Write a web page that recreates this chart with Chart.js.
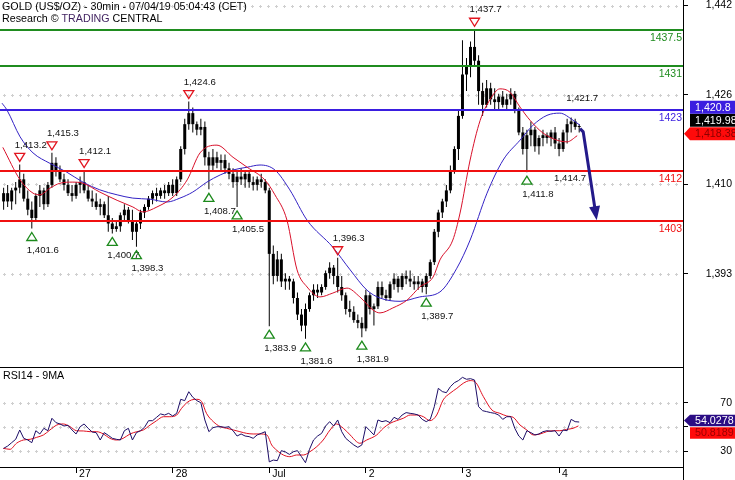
<!DOCTYPE html>
<html><head><meta charset="utf-8">
<script src="https://cdn.jsdelivr.net/npm/chart.js@4.4.1/dist/chart.umd.min.js"></script>
<style>
html,body{margin:0;padding:0;background:#fff;}
#wrap{position:relative;width:735px;height:480px;overflow:hidden;}
#main{position:absolute;left:0;top:0;}
#rsi{position:absolute;left:0;top:367px;}
</style></head><body>
<div id="wrap"><canvas id="main" width="735" height="367"></canvas><canvas id="rsi" width="735" height="113"></canvas></div>
<script>
// ---------- DATA (hours counted from Jun 26 00:00 CET) ----------
const candleHours = [6,7,8,9,10,11,12,13,14,15,16,17,18,19,20,21,22,23,24,25,26,27,28,29,30,31,32,33,34,35,36,37,38,39,40,41,42,43,44,45,46,47,48,49,50,51,52,53,54,55,56,57,58,59,60,61,62,63,64,65,66,67,68,69,70,71,72,73,74,75,76,77,78,79,80,81,82,83,84,85,86,87,88,89,90,91,92,93,94,95,96,97,98,99,100,101,102,103,104,105,106,107,108,109,110,111,112,113,114,115,116,117,118,119,120,121,122,123,124,125,126,127,128,129,130,131,132,133,134,135,136,137,138,139,140,141,142,143,144,145,146,147,148,149];
const opens = [1406.5,1408.0,1406.5,1408.5,1409.0,1410.5,1407.0,1405.0,1403.5,1407.5,1408.5,1406.0,1409.5,1413.5,1412.0,1410.5,1409.5,1408.0,1407.5,1409.5,1410.0,1408.5,1407.0,1406.5,1405.5,1406.0,1404.0,1402.5,1401.5,1402.0,1404.0,1405.0,1403.0,1401.0,1402.5,1404.5,1405.5,1407.0,1408.0,1407.5,1408.5,1408.0,1409.5,1408.0,1410.5,1416.0,1420.5,1422.5,1420.5,1419.5,1420.0,1414.5,1413.0,1414.5,1413.5,1414.0,1412.5,1411.5,1410.0,1411.0,1410.5,1411.5,1410.0,1409.5,1410.5,1410.0,1408.5,1397.0,1393.0,1396.0,1392.0,1392.5,1392.0,1389.0,1386.0,1384.0,1387.0,1389.5,1390.5,1390.0,1391.0,1393.5,1394.5,1393.0,1391.0,1389.5,1387.0,1386.5,1385.0,1384.5,1383.5,1389.5,1387.0,1387.5,1391.0,1389.5,1389.0,1391.5,1392.5,1391.0,1393.0,1392.5,1392.0,1391.5,1392.0,1391.0,1393.0,1395.5,1401.0,1404.5,1406.5,1408.5,1412.0,1416.0,1422.0,1429.5,1431.0,1434.5,1432.0,1426.5,1424.0,1427.0,1425.0,1424.5,1425.5,1424.0,1425.0,1426.0,1423.0,1419.0,1416.0,1418.5,1419.5,1416.5,1418.0,1418.5,1418.0,1419.0,1417.0,1416.0,1419.0,1420.5,1421.0,1420.0];
const highs = [1409.0,1409.5,1409.0,1410.0,1413.2,1411.5,1408.5,1406.5,1408.0,1409.5,1409.0,1410.0,1415.3,1414.5,1413.0,1411.5,1410.5,1409.5,1410.0,1411.0,1412.1,1409.5,1408.5,1408.0,1407.0,1406.5,1407.5,1403.5,1403.0,1404.5,1406.0,1405.5,1405.0,1403.0,1405.0,1406.0,1407.5,1408.5,1409.0,1409.0,1409.5,1410.0,1410.5,1411.0,1416.5,1421.5,1424.6,1423.5,1421.0,1421.5,1421.0,1415.5,1416.0,1415.5,1415.0,1415.0,1413.5,1412.5,1412.0,1412.5,1412.0,1412.0,1411.0,1411.0,1411.5,1410.5,1409.0,1398.5,1397.5,1397.0,1393.5,1393.0,1392.5,1390.0,1387.0,1388.0,1390.0,1391.5,1391.5,1391.5,1394.0,1395.5,1395.0,1396.3,1393.0,1390.0,1388.5,1387.5,1386.0,1385.5,1390.5,1390.0,1388.0,1392.0,1392.0,1390.5,1392.0,1393.5,1393.0,1393.5,1394.0,1394.0,1393.0,1393.0,1392.5,1393.5,1396.0,1401.5,1405.0,1407.0,1409.5,1413.0,1416.5,1423.0,1435.7,1432.5,1435.5,1437.7,1433.0,1428.0,1428.5,1428.0,1427.0,1426.0,1426.5,1426.0,1427.0,1426.5,1423.5,1420.0,1419.5,1421.0,1420.0,1418.5,1419.5,1419.0,1419.5,1420.0,1418.0,1419.5,1421.5,1421.7,1421.5,1420.5];
const lows = [1405.0,1405.5,1405.0,1406.0,1408.0,1406.5,1404.0,1401.6,1403.0,1405.5,1405.0,1405.5,1409.0,1411.0,1410.0,1408.5,1407.5,1406.5,1407.0,1408.0,1408.0,1406.5,1405.5,1405.0,1404.0,1403.5,1401.0,1400.7,1401.0,1401.0,1403.0,1402.5,1399.5,1398.3,1401.5,1403.5,1405.0,1406.0,1406.5,1407.0,1407.0,1407.5,1407.5,1407.5,1410.0,1415.0,1419.5,1419.0,1418.5,1418.5,1413.0,1408.7,1412.0,1412.5,1412.0,1411.5,1410.5,1409.0,1405.5,1409.5,1409.0,1409.0,1408.5,1408.5,1409.0,1408.0,1383.9,1391.5,1392.0,1391.0,1390.5,1390.5,1388.0,1385.0,1383.0,1381.6,1386.5,1388.5,1389.0,1389.5,1390.5,1392.5,1391.5,1390.0,1388.5,1386.0,1385.5,1384.5,1383.5,1381.9,1383.0,1386.0,1384.0,1387.0,1389.0,1388.5,1388.5,1390.5,1390.0,1390.5,1391.5,1391.0,1390.5,1390.5,1390.0,1389.7,1392.5,1395.0,1400.0,1403.5,1405.5,1408.0,1411.5,1414.0,1421.5,1426.5,1429.0,1431.0,1424.0,1422.0,1423.5,1424.0,1423.0,1423.0,1423.5,1423.0,1424.0,1422.5,1418.5,1415.0,1411.8,1416.5,1415.5,1415.0,1416.5,1417.0,1416.5,1416.0,1414.7,1415.5,1417.0,1419.0,1419.5,1419.0];
const closes = [1408.0,1406.5,1408.5,1409.0,1410.5,1407.0,1405.0,1403.5,1407.5,1408.5,1406.0,1409.5,1413.5,1412.0,1410.5,1409.5,1408.0,1407.5,1409.5,1410.0,1408.5,1407.0,1406.5,1405.5,1406.0,1404.0,1402.5,1401.5,1402.0,1404.0,1405.0,1403.0,1401.0,1402.5,1404.5,1405.5,1407.0,1408.0,1407.5,1408.5,1408.0,1409.5,1408.0,1410.5,1416.0,1420.5,1422.5,1420.5,1419.5,1420.0,1414.5,1413.0,1414.5,1413.5,1414.0,1412.5,1411.5,1410.0,1411.0,1410.5,1411.5,1410.0,1409.5,1410.5,1410.0,1408.5,1397.0,1393.0,1396.0,1392.0,1392.5,1392.0,1389.0,1386.0,1384.0,1387.0,1389.5,1390.5,1390.0,1391.0,1393.5,1394.5,1393.0,1391.0,1389.5,1387.0,1386.5,1385.0,1384.5,1383.5,1389.5,1387.0,1387.5,1391.0,1389.5,1389.0,1391.5,1392.5,1391.0,1393.0,1392.5,1392.0,1391.5,1392.0,1391.0,1393.0,1395.5,1401.0,1404.5,1406.5,1408.5,1412.0,1416.0,1422.0,1429.5,1431.0,1434.5,1432.0,1426.5,1424.0,1427.0,1425.0,1424.5,1425.5,1424.0,1425.0,1426.0,1423.0,1419.0,1416.0,1418.5,1419.5,1416.5,1418.0,1418.5,1418.0,1419.0,1417.0,1416.0,1419.0,1420.5,1421.0,1420.0,1419.98];

const maRedHours = [5.8,10.1,13.3,15.0,17.5,20.0,23.2,25.7,29.9,34.2,38.1,40.6,44.1,48.1,51.6,54.8,59.0,63.0,66.5,70.9,73.4,76.4,78.9,81.4,84.6,87.8,91.3,94.5,97.8,99.5,102.7,106.2,109.4,112.7,114.4,117.6,119.4,121.9,124.4,126.8,129.3,131.8,134.3,136.8,140.0,143.5,146.0,148.5];
const maRedValues = [1416.3,1410.4,1408.0,1407.7,1408.9,1409.8,1410.0,1409.8,1408.2,1406.7,1405.5,1404.6,1405.5,1407.3,1410.4,1415.3,1416.7,1414.5,1412.7,1410.4,1407.7,1403.1,1394.1,1391.0,1389.2,1389.9,1390.8,1389.2,1386.8,1386.3,1387.2,1388.6,1391.0,1392.8,1395.9,1399.5,1404.4,1414.0,1421.2,1424.9,1426.9,1426.3,1423.6,1421.2,1418.9,1417.6,1417.3,1418.4];
const maBlueHours = [5.6,6.8,10.1,13.3,17.5,21.7,25.7,29.9,34.2,38.1,42.4,46.6,49.8,53.0,56.5,59.8,63.0,66.5,69.7,73.4,77.1,81.4,87.8,92.1,96.3,99.5,104.5,109.4,114.4,118.6,121.9,126.1,130.1,134.3,137.5,141.0,144.2,147.5,149.2];
const maBlueValues = [1424.3,1423.1,1418.2,1415.3,1413.4,1411.8,1410.0,1408.6,1407.7,1407.1,1406.9,1406.4,1407.1,1408.2,1410.0,1411.3,1412.2,1412.7,1413.1,1412.2,1408.6,1403.1,1398.2,1394.1,1390.4,1389.0,1388.4,1389.2,1390.1,1394.4,1399.5,1408.0,1414.0,1417.6,1420.3,1422.1,1422.5,1421.2,1420.3];

const rsiValues = [32.2,34.1,36.9,39.7,47.4,40.5,39.1,36.9,46.8,44.1,48.8,46.8,57.1,53.5,52.4,50.7,51.3,47.4,44.1,50.1,52.4,48.8,45.7,45.2,39.1,45.2,43.0,40.5,39.7,39.1,46.8,48.8,39.1,45.2,46.8,49.6,55.1,55.1,57.9,60.7,59.8,61.2,59.0,61.2,72.8,71.7,79.1,74.5,71.7,70.0,55.7,46.0,49.3,50.1,50.1,49.6,50.1,46.8,42.4,44.1,42.4,41.9,40.5,43.3,44.6,46.0,21.0,22.5,22.0,30.3,29.2,27.2,29.4,30.3,25.3,20.3,31.4,39.1,42.4,44.6,50.7,54.3,50.7,55.7,46.0,40.5,37.7,35.0,33.0,35.0,50.2,46.8,43.3,55.7,54.3,55.1,53.5,57.9,56.2,59.8,61.8,61.2,60.7,59.8,56.2,54.3,56.2,66.7,81.9,79.2,78.3,83.3,86.6,88.3,91.0,89.4,89.9,88.8,66.7,63.4,62.6,61.8,61.2,59.8,56.2,58.4,58.4,48.8,42.4,39.1,46.8,45.2,43.3,44.1,46.0,46.8,46.3,46.8,42.4,47.4,46.8,56.2,54.3,54.0];
const rsiMaHours = [5.9,7.6,9.2,10.9,12.6,14.2,15.9,17.5,19.2,20.8,22.5,24.1,25.8,27.5,29.1,30.8,32.4,34.1,35.7,37.4,39.1,40.7,42.4,44.0,45.7,47.3,49.0,50.2,51.5,52.7,54.0,55.2,56.4,58.1,59.8,61.4,63.1,64.7,66.4,68.0,69.7,71.4,72.6,73.8,75.5,77.1,78.8,80.5,82.1,83.8,85.4,87.1,88.7,90.4,92.1,93.7,94.5,96.2,98.7,100.3,102.0,103.6,105.3,107.0,108.6,110.3,111.9,113.6,115.2,116.9,118.6,120.2,121.9,123.1,125.2,127.3,129.3,131.0,132.6,134.3,136.0,137.6,139.3,140.9,142.6,144.2,145.9,147.5,148.8];
const rsiMaValues = [32.2,31.4,36.4,39.1,39.7,41.3,43.3,47.4,51.5,52.4,50.2,46.8,46.6,46.0,46.0,44.1,40.5,39.1,40.5,44.1,46.0,47.4,51.5,55.1,58.4,58.4,59.8,65.3,70.0,72.3,72.8,70.9,61.2,54.3,50.2,48.8,47.4,46.0,44.6,44.1,44.1,43.3,35.0,30.8,26.7,25.3,26.7,26.7,29.4,33.6,39.1,47.4,52.4,48.8,43.3,37.7,36.4,39.1,43.3,48.8,52.9,55.1,57.1,59.8,59.8,58.4,55.1,59.8,72.3,77.8,81.9,86.1,88.3,87.4,75.0,64.0,61.2,59.0,57.9,51.5,47.4,43.3,44.1,46.0,46.8,46.8,47.9,48.8,50.8];

const priceTicks = [1393.4,1409.6,1425.8,1442.0];
const rsiTicks = [30,50,70];
const dayTicks = [24,48,72,96,120,144];
const dayLabels = ['27','28','Jul','2','3','4'];

const levelValues = [1437.5,1431,1423,1412,1403];
const levelKinds = ['g','g','b','r','r'];

const pivotHours = [10,13,18,26,33,39,52,57,64,72,81,89,95,111,123,136,147,144];
const pivotValues = [1413.2,1401.6,1415.3,1412.1,1400.7,1398.3,1424.6,1408.7,1405.5,1383.9,1381.6,1396.3,1381.9,1389.7,1437.7,1411.8,1421.7,1414.7];
const pivotKinds = ['H','L','H','H','L','L','H','L','L','L','L','H','L','L','H','L','h','l'];

const arrowHours = [149.2,150.0,153.35];
const arrowValues = [1419.7,1419.1,1403.1];

const lastBlueMA = 1420.8, lastClose = 1419.98, lastRedMA = 1418.38;
const lastRsi = 54.0278, lastRsiMA = 50.8189;

const titleText = 'GOLD (US$/OZ) - 30min - 07/04/19 05:04:43 (CET)';
const subTitle = ['Research \u00A9 ','TRADING',' CENTRAL'];

// ---------- STYLE ----------
const FF = '"Liberation Sans", Arial, sans-serif';
const COL = {g:'#1f8c1f', b:'#3a1ee0', r:'#f01010', redMA:'#d8102a', blueMA:'#3322c4',
  rsi:'#1c0d66', rsiMA:'#e01020', arrow:'#241a8a', pivH:'#e2141e', pivL:'#1c8a1c', grid:'#cfcfcf'};
const X_MIN = 5.1, X_MAX = 174.79;

function fmt(v,d){return v.toLocaleString('en-US',{minimumFractionDigits:d,maximumFractionDigits:d});}

function crossGrid(ctx, a, ys){
  ctx.save(); ctx.fillStyle = COL.grid;
  ys.forEach(py=>{ py=Math.round(py);
    for(let x=a.left+4; x<a.right-3; x+=8){ ctx.fillRect(x-1,py,3,1); ctx.fillRect(x,py-1,1,3); }
  });
  ctx.restore();
}
function box(ctx, x0, cy, h, bg, fg, text, pointer){
  ctx.save(); ctx.fillStyle = bg; ctx.beginPath();
  const t = cy-h/2, b = cy+h/2;
  if(pointer){ ctx.moveTo(x0-6, cy); ctx.lineTo(x0, t); ctx.lineTo(735, t); ctx.lineTo(735, b); ctx.lineTo(x0, b); }
  else { ctx.rect(x0, t, 735-x0, h); }
  ctx.closePath(); ctx.fill();
  ctx.fillStyle = fg; ctx.font = '10.7px '+FF; ctx.textAlign='left'; ctx.textBaseline='middle';
  ctx.fillText(text, x0+5, cy+0.5);
  ctx.restore();
}

const mainOverlay = {
  id:'mainOverlay',
  beforeDatasetsDraw(chart){
    const y = chart.scales.y;
    crossGrid(chart.ctx, chart.chartArea, priceTicks.map(v=>y.getPixelForValue(v)));
  },
  afterDatasetsDraw(chart){
    const {ctx, chartArea:a} = chart; const x = chart.scales.x, y = chart.scales.y;
    ctx.save();
    // support / resistance levels
    levelValues.forEach((v,i)=>{
      const py = Math.round(y.getPixelForValue(v)); const c = COL[levelKinds[i]];
      ctx.fillStyle = c; ctx.fillRect(a.left, py-1, a.right-a.left, 2);
      ctx.font = '10.5px '+FF; ctx.textAlign='right'; ctx.textBaseline='alphabetic';
      ctx.fillText(String(v), a.right-1, py+11);
    });
    // pivots
    pivotHours.forEach((h,i)=>{
      const k = pivotKinds[i]; const px = x.getPixelForValue(h); const py = y.getPixelForValue(pivotValues[i]);
      const high = (k==='H'||k==='h');
      const tc = high ? py-7 : py+8;
      if(k==='H'||k==='L'){
        ctx.beginPath(); ctx.lineWidth = 1.3; ctx.strokeStyle = high?COL.pivH:COL.pivL;
        if(high){ ctx.moveTo(px-5,tc-4); ctx.lineTo(px+5,tc-4); ctx.lineTo(px,tc+4); }
        else { ctx.moveTo(px,tc-4); ctx.lineTo(px+5,tc+4); ctx.lineTo(px-5,tc+4); }
        ctx.closePath(); ctx.stroke();
      }
      ctx.fillStyle = '#111'; ctx.font = '9.6px '+FF; ctx.textAlign='center'; ctx.textBaseline='middle';
      ctx.fillText(fmt(pivotValues[i],1), px+11, high ? py-19.5 : py+22);
    });
    // projection arrow
    const pts = arrowHours.map((h,i)=>[x.getPixelForValue(h), y.getPixelForValue(arrowValues[i])]);
    const tip = pts[pts.length-1], prev = pts[pts.length-2];
    const dx = tip[0]-prev[0], dy = tip[1]-prev[1], L = Math.hypot(dx,dy), ux = dx/L, uy = dy/L;
    const bx = tip[0]-ux*14, by = tip[1]-uy*14;
    ctx.strokeStyle = COL.arrow; ctx.lineWidth = 3; ctx.lineJoin='round';
    ctx.beginPath(); ctx.moveTo(pts[0][0],pts[0][1]);
    for(let i=1;i<pts.length-1;i++) ctx.lineTo(pts[i][0],pts[i][1]);
    ctx.lineTo(bx+ux*2, by+uy*2); ctx.stroke();
    ctx.fillStyle = COL.arrow; ctx.beginPath(); ctx.moveTo(tip[0],tip[1]);
    ctx.lineTo(bx-uy*5.5, by+ux*5.5); ctx.lineTo(bx+uy*5.5, by-ux*5.5); ctx.closePath(); ctx.fill();
    // title
    ctx.fillStyle = '#000'; ctx.font = '10.7px '+FF; ctx.textAlign='left'; ctx.textBaseline='alphabetic';
    ctx.fillText(titleText, 2, 10);
    let tx = 2;
    subTitle.forEach((s,i)=>{ ctx.fillStyle = i===1 ? '#3e1f5e' : '#000'; ctx.fillText(s, tx, 22); tx += ctx.measureText(s).width; });
    ctx.restore();
    // value boxes
    const redC = y.getPixelForValue(lastRedMA) - 2;
    box(ctx, 690, redC, 13, '#ff0a0a', '#8a0000', fmt(lastRedMA,2), true);
    box(ctx, 690, redC-13.5, 13, '#000', '#fff', fmt(lastClose,2), false);
    box(ctx, 690, redC-26.5, 13, COL.b, '#fff', fmt(lastBlueMA,1), false);
  }
};

const rsiOverlay = {
  id:'rsiOverlay',
  beforeDatasetsDraw(chart){
    const y = chart.scales.y;
    crossGrid(chart.ctx, chart.chartArea, rsiTicks.map(v=>y.getPixelForValue(v)));
  },
  afterDraw(chart){
    const {ctx, chartArea:a} = chart; const y = chart.scales.y;
    ctx.save();
    ctx.fillStyle = '#000';
    ctx.fillRect(a.left, 0, a.right-a.left, 1);
    ctx.fillRect(a.right, a.bottom, 1, chart.height-a.bottom);
    ctx.font = '10.7px '+FF; ctx.textAlign='left'; ctx.textBaseline='alphabetic';
    ctx.fillText('RSI14 - 9MA', 3, 12);
    ctx.restore();
    const c = y.getPixelForValue(lastRsi) - 1.5;
    box(ctx, 690, c+12.5, 11.5, '#ff0a0a', '#9a0000', lastRsiMA.toFixed(4), false);
    box(ctx, 690, c, 11.5, '#2a0c84', '#fff', lastRsi.toFixed(4), true);
  }
};

const tickFont = {family:FF, size:10.5};

new Chart(document.getElementById('main'), {
  type:'bar',
  data:{datasets:[
    {type:'line', data: maRedHours.map((h,i)=>({x:h,y:maRedValues[i]})), borderColor:COL.redMA, borderWidth:1, pointRadius:0, cubicInterpolationMode:'monotone', order:1},
    {type:'line', data: maBlueHours.map((h,i)=>({x:h,y:maBlueValues[i]})), borderColor:COL.blueMA, borderWidth:1, pointRadius:0, cubicInterpolationMode:'monotone', order:1},
    {data: candleHours.map((h,i)=>({x:h,y:[lows[i],highs[i]]})), backgroundColor:'#000', barThickness:1, grouped:false, inflateAmount:0, order:4},
    {data: candleHours.map((h,i)=>({x:h,y:[opens[i],closes[i]]})),
     backgroundColor:'#000', borderColor:'#000', borderWidth:0, borderSkipped:false, barThickness:3, minBarLength:1, grouped:false, inflateAmount:0, order:3}
  ]},
  options:{
    responsive:false, animation:false, devicePixelRatio:1,
    layout:{padding:{left:0,right:3,top:0,bottom:0}},
    plugins:{legend:{display:false}, tooltip:{enabled:false}},
    scales:{
      x:{type:'linear', min:X_MIN, max:X_MAX, display:false, offset:false},
      y:{position:'right', min:1376.5, max:1443.0,
         afterBuildTicks: s => { s.ticks = priceTicks.map(v=>({value:v})); },
         afterFit: s => { s.width = 49; s.paddingTop = 0; s.paddingBottom = 0; },
         ticks:{callback: v => fmt(Math.round(v),0), font:tickFont, color:'#000', padding:7, crossAlign:'far'},
         grid:{drawOnChartArea:false, tickLength:5, color:'#000', tickColor:'#000'},
         border:{display:true, color:'#000', width:1}}
    }
  },
  plugins:[mainOverlay]
});

new Chart(document.getElementById('rsi'), {
  type:'line',
  data:{datasets:[
    {data: candleHours.map((h,i)=>({x:h,y:rsiValues[i]})), borderColor:COL.rsi, borderWidth:1, pointRadius:0, tension:0},
    {data: rsiMaHours.map((h,i)=>({x:h,y:rsiMaValues[i]})), borderColor:COL.rsiMA, borderWidth:1, pointRadius:0, cubicInterpolationMode:'monotone'}
  ]},
  options:{
    responsive:false, animation:false, devicePixelRatio:1,
    layout:{padding:{left:0,right:3,top:0,bottom:0}},
    plugins:{legend:{display:false}, tooltip:{enabled:false}},
    scales:{
      x:{type:'linear', min:X_MIN, max:X_MAX, offset:false,
         afterBuildTicks: s => { s.ticks = dayTicks.map(v=>({value:v})); },
         afterFit: s => { s.height = 13; s.paddingLeft = 0; s.paddingRight = 0; },
         ticks:{callback:(v,i)=>dayLabels[i], autoSkip:false, maxRotation:0, align:'start', labelOffset:3, padding:-5, font:tickFont, color:'#000'},
         grid:{drawOnChartArea:false, tickLength:6, color:'#000', tickColor:'#000'},
         border:{display:true, color:'#000', width:1}},
      y:{position:'right', min:16.75, max:99.57,
         afterBuildTicks: s => { s.ticks = rsiTicks.map(v=>({value:v})); },
         afterFit: s => { s.width = 49; s.paddingTop = 0; s.paddingBottom = 0; },
         ticks:{callback: v => (v===50 ? '' : String(v)), font:tickFont, color:'#000', padding:7, crossAlign:'far'},
         grid:{drawOnChartArea:false, tickLength:5, color:'#000', tickColor:'#000'},
         border:{display:true, color:'#000', width:1}}
    }
  },
  plugins:[rsiOverlay]
});
</script>
</body></html>
